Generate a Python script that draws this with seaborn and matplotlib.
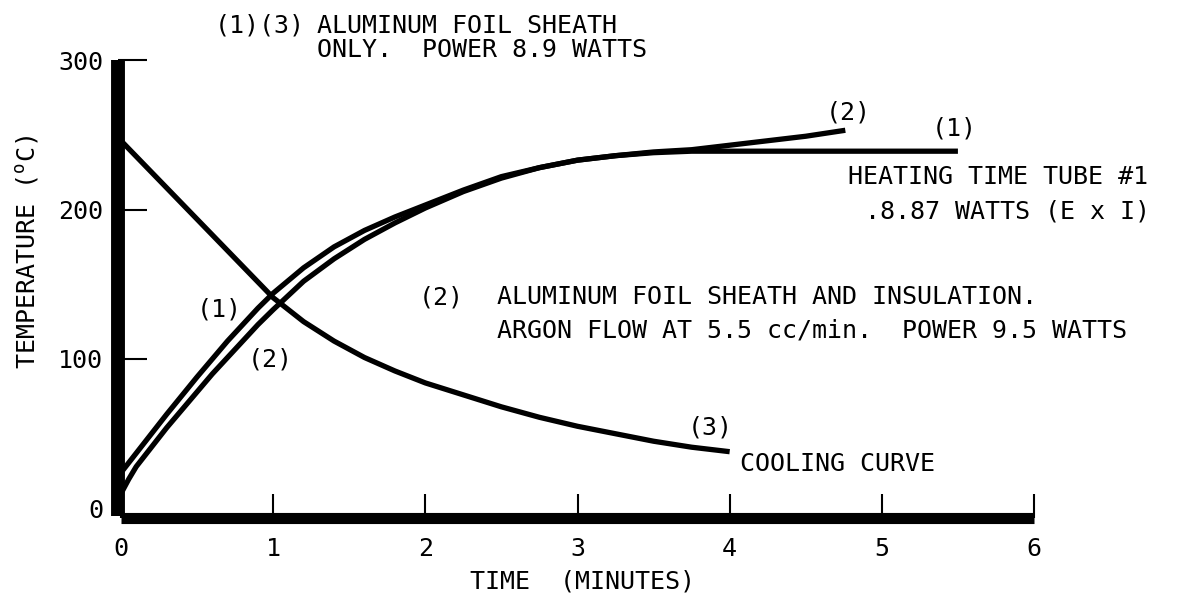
import matplotlib
matplotlib.use("Agg")
import matplotlib.pyplot as plt
import seaborn as sns
import pandas as pd

# Heating curve (1): aluminum foil sheath only, 8.9 W
t_foil = [0, 0.05, 0.1, 0.2, 0.3, 0.4, 0.5, 0.6, 0.7, 0.8, 0.9, 1.0, 1.2, 1.4, 1.6, 1.8,
          2.0, 2.25, 2.5, 2.75, 3.0, 3.25, 3.5, 3.75, 4.0, 4.5, 5.0, 5.5]
temp_foil = [24, 30.5, 37, 50, 63, 75.5, 88, 100, 112, 123, 134, 144, 161, 175, 186, 195,
             203, 213, 222, 228, 233, 236, 238, 239, 239, 239, 239, 239]

# Heating curve (2): foil sheath and insulation, argon flow, 9.5 W
t_insul = [0, 0.05, 0.1, 0.2, 0.3, 0.4, 0.5, 0.6, 0.7, 0.8, 0.9, 1.0, 1.2, 1.4, 1.6, 1.8,
           2.0, 2.25, 2.5, 2.75, 3.0, 3.25, 3.5, 3.75, 4.0, 4.25, 4.5, 4.76]
temp_insul = [10, 19.5, 28, 41, 54, 66, 78, 90, 101, 112, 123, 133, 152, 167, 180, 191,
              201, 212, 221, 228, 233, 236, 238.5, 240, 243, 246, 249, 253]

# Cooling curve (3)
t_cool = [0, 0.1, 0.2, 0.3, 0.4, 0.5, 0.6, 0.7, 0.8, 0.9, 1.0, 1.2, 1.4, 1.6, 1.8,
          2.0, 2.25, 2.5, 2.75, 3.0, 3.25, 3.5, 3.75, 4.0]
temp_cool = [246, 235.5, 225, 214.5, 204, 193.5, 183, 172.5, 162, 151.5, 141, 125, 112, 101, 92,
             84, 76, 68, 61, 55, 50, 45, 41, 38]

x_ticks = [0, 1, 2, 3, 4, 5, 6]
y_ticks = [0, 100, 200, 300]

df = pd.concat([
    pd.DataFrame({"time": t_foil, "temp": temp_foil, "curve": "1"}),
    pd.DataFrame({"time": t_insul, "temp": temp_insul, "curve": "2"}),
    pd.DataFrame({"time": t_cool, "temp": temp_cool, "curve": "3"}),
], ignore_index=True)

sns.set_style("ticks")
FONT = "DejaVu Sans Mono"
plt.rcParams["font.family"] = [FONT, "DejaVu Sans"]
plt.rcParams["mathtext.fontset"] = "custom"
plt.rcParams["mathtext.rm"] = FONT
plt.rcParams["text.color"] = "black"
plt.rcParams["axes.labelcolor"] = "black"
plt.rcParams["xtick.color"] = "black"
plt.rcParams["ytick.color"] = "black"
FS = 18

W, H = 1184, 600
fig = plt.figure(figsize=(W / 100, H / 100), dpi=100)
ax = fig.add_axes([121 / W, (H - 508.5) / H, 913 / W, 448.5 / H])

sns.lineplot(data=df, x="time", y="temp", units="curve", estimator=None,
             color="black", linewidth=3.8, sort=False, ax=ax, legend=False)
for ln in ax.lines:
    ln.set_solid_capstyle("butt")
    ln.set_solid_joinstyle("round")

ax.set_xlim(0, 6)
ax.set_ylim(0, 300)
ax.set_xticks(x_ticks)
ax.set_yticks(y_ticks)
ax.set_xticklabels([str(v) for v in x_ticks])
ax.set_yticklabels([str(v) for v in y_ticks])

for side in ("top", "right"):
    ax.spines[side].set_visible(False)
ax.spines["left"].set_linewidth(10)
ax.spines["left"].set_position(("outward", 2.5))
ax.spines["left"].set_capstyle("butt")
ax.spines["left"].set_bounds(-5, 300)
ax.spines["bottom"].set_linewidth(8)
ax.spines["bottom"].set_position(("outward", 6.5))
ax.spines["bottom"].set_capstyle("butt")
for sp in ax.spines.values():
    sp.set_color("black")

ax.tick_params(axis="y", direction="in", length=21, width=1.5, pad=10.5,
               labelsize=FS, colors="black")
ax.tick_params(axis="x", direction="in", length=17, width=1.5, pad=14,
               labelsize=FS, colors="black")
ax.yaxis.get_major_ticks()[0].tick1line.set_visible(False)

ax.set_xlabel("TIME  (MINUTES)", fontsize=FS, color="black")
ax.xaxis.label.set_va("center")
ax.xaxis.set_label_coords((583 - 121) / 913, (508.5 - 582) / 448.5)
ax.set_ylabel(r"TEMPERATURE ($^{\mathrm{o}}$C)", fontsize=FS, color="black")
ax.yaxis.label.set_va("center")
ax.yaxis.set_label_coords((28 - 121) / 913, (508.5 - 252) / 448.5)

HALF_CAP = 9.0


def put(s, x, yc):
    fig.text(x / W, 1 - (yc + HALF_CAP) / H, s, ha="left", va="baseline",
             fontsize=FS, color="black")


put("(1)(3)", 215, 24)
put("ALUMINUM FOIL SHEATH", 317, 24)
put("ONLY.  POWER 8.9 WATTS", 317, 48)
put("HEATING TIME TUBE #1", 848, 175)
put(".8.87 WATTS (E x I)", 865, 210)
put("(2)", 419, 295)
put("ALUMINUM FOIL SHEATH AND INSULATION.", 497, 295)
put("ARGON FLOW AT 5.5 cc/min.  POWER 9.5 WATTS", 497, 328)
put("COOLING CURVE", 740, 462)
put("(1)", 197, 308)
put("(2)", 248, 358)

# curve labels next to the end of each line
ends = [(t_insul[-1], temp_insul[-1], "(2)", 3, 11),
        (t_foil[-1], temp_foil[-1], "(1)", -4, 16),
        (t_cool[-1], temp_cool[-1], "(3)", -19, 17)]
for tx, ty, lab, dx, dy in ends:
    ax.annotate(lab, xy=(tx, ty), xytext=(dx, dy), textcoords="offset pixels",
                ha="center", va="baseline", fontsize=FS, color="black")

fig.savefig("out.png", dpi=100)
